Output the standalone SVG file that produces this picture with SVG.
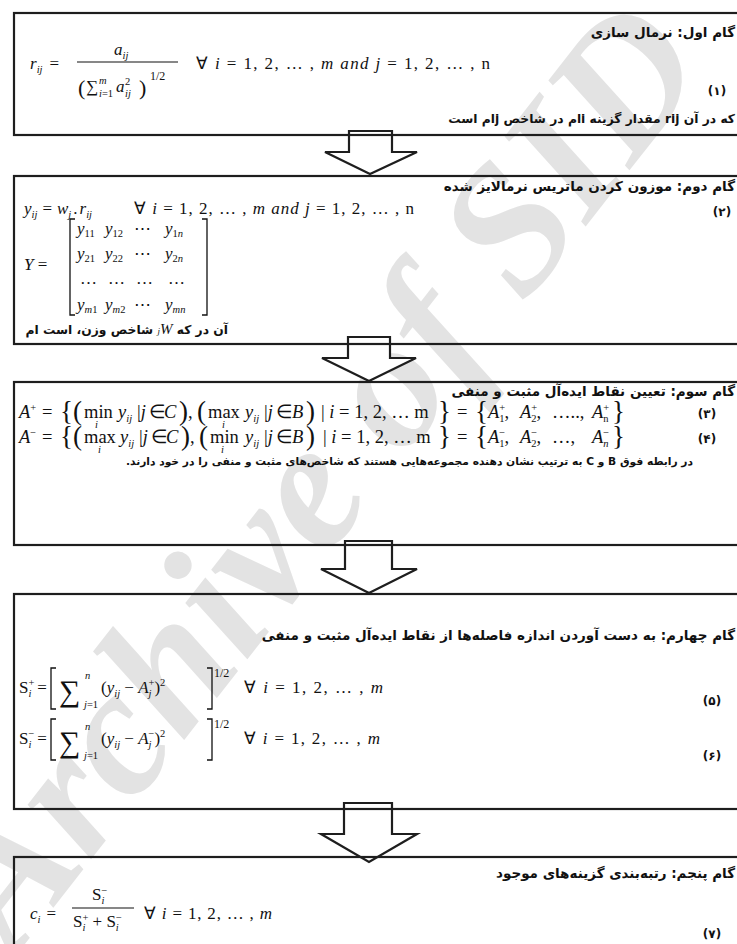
<svg xmlns="http://www.w3.org/2000/svg" width="737" height="944" viewBox="0 0 737 944">
<style>
.box{fill:none;stroke:#1e1e1e;stroke-width:2.2}
.arr{fill:#fff;stroke:#1e1e1e;stroke-width:2.2;stroke-linejoin:miter}
.fl{stroke:#111;stroke-width:1.2}
.br{fill:none;stroke:#111;stroke-width:1.3}
.fa{font-family:"DejaVu Sans",sans-serif;font-weight:bold;font-size:13.5px;fill:#111;direction:rtl;text-anchor:start}
.fn{font-family:"DejaVu Sans",sans-serif;font-weight:bold;font-size:11px;fill:#111;direction:rtl;text-anchor:start}
.num{font-family:"DejaVu Sans",sans-serif;font-weight:bold;font-size:12px;fill:#111;text-anchor:middle}
.mi{font-family:"Liberation Serif",serif;font-style:italic;font-size:17px;fill:#111}
.ma{font-size:18.5px}
.up{font-style:normal}
.s{font-size:10.5px}
.big{font-size:27px}
.wm{font-family:"Liberation Serif",serif;font-style:italic;font-weight:bold;font-size:182px;fill:#e3e3e3}
</style>

<text class="wm" transform="translate(14,958) rotate(-52)">Archive of SID</text>

<g id="connectors">
<polygon class="arr" points="349,131 392,131 392,152 417,152 370,174 325,152 349,152"/>
<polygon class="arr" points="348,337 390,337 390,358 416,358 369,381 322,358 348,358"/>
<polygon class="arr" points="345,541 392,541 392,569 417,569 369,593 321,569 345,569"/>
<polygon class="arr" points="344,803 392,803 392,834 417,834 369,862 321,834 344,834"/>
</g>

<g id="step1">
<rect class="box" x="14" y="13" width="740" height="122"/>
<text class="fa" x="735" y="37">گام اول: نرمال سازی</text>
<text class="mi" x="30" y="69">r<tspan class="s" dy="4">ij</tspan><tspan class="up" dy="-4" dx="7">=</tspan></text>
<text class="mi" x="114" y="55">a<tspan class="s" dy="4">ij</tspan></text>
<line class="fl" x1="77" y1="62" x2="178" y2="62"/>
<text class="mi up" x="78" y="95" style="font-size:22px">(</text>
<text class="mi up" x="86" y="92">∑</text>
<text class="mi s" x="99" y="84">m</text>
<text class="mi s" x="99" y="97">i<tspan class="up">=1</tspan></text>
<text class="mi" x="116" y="92">a</text>
<text class="mi s up" x="125" y="85">2</text>
<text class="mi s" x="125" y="97">ij</text>
<text class="mi up" x="139" y="95" style="font-size:22px">)</text>
<text class="mi up" x="150" y="80" style="font-size:12px">1/2</text>
<text class="mi" x="196" y="69" textLength="294"><tspan class="up">∀ </tspan> i<tspan class="up"> = 1, 2, … , </tspan>m  and  j<tspan class="up"> = 1, 2, … , n</tspan></text>
<text class="num" x="717" y="95">(۱)</text>
<text class="fn" x="735" y="123" style="font-size:12.3px">که در آن rij مقدار گزینه iام در شاخص jام است</text>
</g>

<g id="step2">
<rect class="box" x="14" y="176" width="740" height="168"/>
<text class="fa" x="735" y="191">گام دوم: موزون کردن ماتریس نرمالایز شده</text>
<text class="mi" x="24" y="214">y<tspan class="s" dy="4">ij</tspan><tspan class="up" dy="-4" dx="5">=</tspan><tspan dx="5">w</tspan><tspan class="s" dy="4">j</tspan><tspan class="up" dy="-4" dx="2">.</tspan><tspan dx="2">r</tspan><tspan class="s" dy="4">ij</tspan></text>
<text class="mi" x="134" y="214" textLength="280"><tspan class="up">∀ </tspan> i<tspan class="up"> = 1, 2, … , </tspan>m  and  j<tspan class="up"> = 1, 2, … , n</tspan></text>
<text class="num" x="722" y="216">(۲)</text>
<text class="mi" x="24" y="270">Y<tspan class="up"> =</tspan></text>
<path class="br" d="M75,219 h-5 v96 h5 M202,219 h5 v96 h-5"/>
<text class="mi" y="234"><tspan x="77">y</tspan><tspan class="s up" dy="3">11</tspan><tspan x="105" dy="-3">y</tspan><tspan class="s up" dy="3">12</tspan><tspan class="up" x="134" dy="-3">⋯</tspan><tspan x="165">y</tspan><tspan class="s up" dy="3">1</tspan><tspan class="s">n</tspan></text>
<text class="mi" y="259"><tspan x="77">y</tspan><tspan class="s up" dy="3">21</tspan><tspan x="105" dy="-3">y</tspan><tspan class="s up" dy="3">22</tspan><tspan class="up" x="134" dy="-3">⋯</tspan><tspan x="165">y</tspan><tspan class="s up" dy="3">2</tspan><tspan class="s">n</tspan></text>
<text class="mi up" y="284"><tspan x="80">…</tspan><tspan x="108">…</tspan><tspan x="136">…</tspan><tspan x="168">…</tspan></text>
<text class="mi" y="310"><tspan x="77">y</tspan><tspan class="s" dy="3">m</tspan><tspan class="s up">1</tspan><tspan x="105" dy="-3">y</tspan><tspan class="s" dy="3">m</tspan><tspan class="s up">2</tspan><tspan class="up" x="134" dy="-3">⋯</tspan><tspan x="165">y</tspan><tspan class="s" dy="3">mn</tspan></text>
<text class="fn" x="228" y="334" style="font-size:12.3px">آن در که <tspan font-family="Liberation Serif" font-style="italic" font-weight="normal" style="font-size:9px">j</tspan><tspan font-family="Liberation Serif" font-style="italic" font-weight="normal" style="font-size:15px">W</tspan> شاخص وزن، است ام</text>
</g>

<g id="step3">
<rect class="box" x="14" y="382" width="740" height="163"/>
<text class="fa" x="735" y="396">گام سوم: تعیین نقاط ایده‌آل مثبت و منفی</text>
<text class="mi ma" y="418"><tspan x="19">A</tspan><tspan class="s up" dy="-7">+</tspan><tspan class="up" x="42" dy="7">=</tspan><tspan class="up big" x="60" dy="2">{(</tspan><tspan class="up" x="84" dy="-2">min</tspan><tspan class="s" x="95" dy="10">i</tspan><tspan x="118" dy="-10">y</tspan><tspan class="s" dy="4">ij</tspan><tspan class="up" x="137" dy="-4">|</tspan>j<tspan class="up" x="149">∈</tspan><tspan x="164">C</tspan><tspan class="up big" x="179" dy="2">)</tspan><tspan class="up" x="188" dy="-2">,</tspan><tspan class="up big" x="197" dy="2">(</tspan><tspan class="up" x="208" dy="-2">max</tspan><tspan class="s" x="222" dy="10">i</tspan><tspan x="245" dy="-10">y</tspan><tspan class="s" dy="4">ij</tspan><tspan class="up" x="264" dy="-4">|</tspan>j<tspan class="up" x="276">∈</tspan><tspan x="292">B</tspan><tspan class="up big" x="306" dy="2">)</tspan><tspan class="up" x="321" dy="-2">| </tspan>i<tspan class="up"> = 1, 2, … m</tspan><tspan class="up big" x="438" dy="2">}</tspan><tspan class="up" x="457" dy="-2">=</tspan><tspan class="up big" x="475" dy="2">{</tspan><tspan x="488" dy="-2">A</tspan><tspan class="s up" dy="-7">+</tspan><tspan class="s up" dx="-6" dy="11">1</tspan><tspan class="up" dy="-4">,</tspan><tspan x="520">A</tspan><tspan class="s up" dy="-7">+</tspan><tspan class="s up" dx="-6" dy="11">2</tspan><tspan class="up" dy="-4">,</tspan><tspan class="up" x="552">…..,</tspan><tspan x="592">A</tspan><tspan class="s up" dy="-7">+</tspan><tspan class="s up" dx="-6" dy="11">n</tspan><tspan class="up big" x="612" dy="-2">}</tspan></text>
<text class="num" x="707" y="418">(۳)</text>
<text class="mi ma" y="443"><tspan x="19">A</tspan><tspan class="s up" dy="-7">−</tspan><tspan class="up" x="42" dy="7">=</tspan><tspan class="up big" x="60" dy="2">{(</tspan><tspan class="up" x="84" dy="-2">max</tspan><tspan class="s" x="98" dy="10">i</tspan><tspan x="120" dy="-10">y</tspan><tspan class="s" dy="4">ij</tspan><tspan class="up" x="139" dy="-4">|</tspan>j<tspan class="up" x="151">∈</tspan><tspan x="166">C</tspan><tspan class="up big" x="181" dy="2">)</tspan><tspan class="up" x="190" dy="-2">,</tspan><tspan class="up big" x="199" dy="2">(</tspan><tspan class="up" x="210" dy="-2">min</tspan><tspan class="s" x="221" dy="10">i</tspan><tspan x="245" dy="-10">y</tspan><tspan class="s" dy="4">ij</tspan><tspan class="up" x="264" dy="-4">|</tspan>j<tspan class="up" x="276">∈</tspan><tspan x="292">B</tspan><tspan class="up big" x="306" dy="2">)</tspan><tspan class="up" x="323" dy="-2">| </tspan>i<tspan class="up"> = 1, 2, … m</tspan><tspan class="up big" x="438" dy="2">}</tspan><tspan class="up" x="457" dy="-2">=</tspan><tspan class="up big" x="475" dy="2">{</tspan><tspan x="488" dy="-2">A</tspan><tspan class="s up" dy="-7">−</tspan><tspan class="s up" dx="-6" dy="11">1</tspan><tspan class="up" dy="-4">,</tspan><tspan x="520">A</tspan><tspan class="s up" dy="-7">−</tspan><tspan class="s up" dx="-6" dy="11">2</tspan><tspan class="up" dy="-4">,</tspan><tspan class="up" x="552">…,</tspan><tspan x="592">A</tspan><tspan class="s up" dy="-7">−</tspan><tspan class="s" dx="-6" dy="11">n</tspan><tspan class="up big" x="612" dy="-2">}</tspan></text>
<text class="num" x="707" y="443">(۴)</text>
<text class="fn" x="693" y="465" style="font-size:10.7px">در رابطه فوق B و C به ترتیب نشان دهنده مجموعه‌هایی هستند که شاخص‌های مثبت و منفی را در خود دارند.</text>
</g>

<g id="step4">
<rect class="box" x="14" y="594" width="740" height="215"/>
<text class="fa" x="735" y="640">گام چهارم: به دست آوردن اندازه فاصله‌ها از نقاط ایده‌آل مثبت و منفی</text>
<text class="mi up" x="19" y="693">S<tspan class="s" dy="-7">+</tspan><tspan class="s mi" dx="-6" dy="11">i</tspan><tspan dy="-4" dx="6">=</tspan></text>
<path class="br" d="M56,668 h-5 v41 h5 M207,668 h5 v41 h-5"/>
<text class="mi up" x="59" y="701" style="font-size:30px">∑</text>
<text class="mi s" x="85" y="679">n</text>
<text class="mi s" x="84" y="708">j<tspan class="up">=1</tspan></text>
<text class="mi" x="101" y="693"><tspan class="up">(</tspan>y<tspan class="s" dy="4">ij</tspan><tspan class="up" dy="-4"> − </tspan>A<tspan class="s up" dy="-7">+</tspan><tspan class="s" dx="-6" dy="11">j</tspan><tspan class="up" dy="-4" dx="3">)</tspan><tspan class="s up" dy="-7">2</tspan></text>
<text class="mi up" x="214" y="677" style="font-size:12px">1/2</text>
<text class="mi" x="244" y="693" textLength="139"><tspan class="up">∀ </tspan> i<tspan class="up"> = 1, 2, … , </tspan>m</text>
<text class="num" x="712" y="705">(۵)</text>
<text class="mi up" x="19" y="744">S<tspan class="s" dy="-7">−</tspan><tspan class="s mi" dx="-6" dy="11">i</tspan><tspan dy="-4" dx="6">=</tspan></text>
<path class="br" d="M56,719 h-5 v41 h5 M207,719 h5 v41 h-5"/>
<text class="mi up" x="59" y="752" style="font-size:30px">∑</text>
<text class="mi s" x="85" y="730">n</text>
<text class="mi s" x="84" y="759">j<tspan class="up">=1</tspan></text>
<text class="mi" x="101" y="744"><tspan class="up">(</tspan>y<tspan class="s" dy="4">ij</tspan><tspan class="up" dy="-4"> − </tspan>A<tspan class="s up" dy="-7">−</tspan><tspan class="s" dx="-6" dy="11">j</tspan><tspan class="up" dy="-4" dx="3">)</tspan><tspan class="s up" dy="-7">2</tspan></text>
<text class="mi up" x="214" y="728" style="font-size:12px">1/2</text>
<text class="mi" x="244" y="744" textLength="136"><tspan class="up">∀ </tspan> i<tspan class="up"> = 1, 2, … , </tspan>m</text>
<text class="num" x="712" y="760">(۶)</text>
</g>

<g id="step5">
<rect class="box" x="14" y="857" width="740" height="120"/>
<text class="fa" x="735" y="878">گام پنجم: رتبه‌بندی گزینه‌های موجود</text>
<text class="mi" x="30" y="919">c<tspan class="s" dy="4">i</tspan><tspan class="up" dy="-4" dx="6">=</tspan></text>
<text class="mi up" x="92" y="900">S<tspan class="s" dy="-6">−</tspan><tspan class="s mi" dx="-6" dy="10">i</tspan></text>
<line class="fl" x1="72" y1="908" x2="134" y2="908"/>
<text class="mi up" x="73" y="927">S<tspan class="s" dy="-6">+</tspan><tspan class="s mi" dx="-6" dy="10">i</tspan><tspan dy="-4" dx="3"> + </tspan>S<tspan class="s" dy="-6">−</tspan><tspan class="s mi" dx="-6" dy="10">i</tspan></text>
<text class="mi" x="144" y="919" textLength="128"><tspan class="up">∀ </tspan> i<tspan class="up"> = 1, 2, … , </tspan>m</text>
<text class="num" x="712" y="938">(۷)</text>
</g>
</svg>
